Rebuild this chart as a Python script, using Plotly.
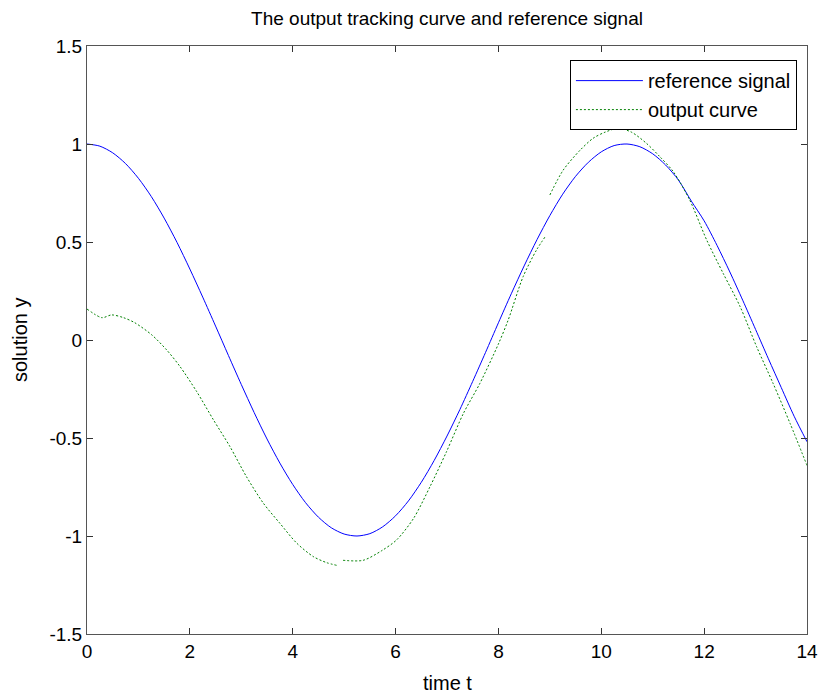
import plotly.graph_objects as go

# Reference signal
t_ref = [0, 0.25, 0.5, 0.75, 1, 1.25, 1.5, 1.75, 2, 2.25, 2.5, 2.75, 3, 3.25, 3.5, 3.75,
         4, 4.25, 4.5, 4.75, 5, 5.25, 5.5, 5.75, 6, 6.25, 6.5, 6.75, 7, 7.25, 7.5, 7.75,
         8, 8.25, 8.5, 8.75, 9, 9.25, 9.5, 9.75, 10, 10.25, 10.5, 10.75, 11, 11.25, 11.5,
         11.75, 12, 12.25, 12.5, 12.75, 13, 13.25, 13.5, 13.75, 14]
y_ref = [1.0, 0.989, 0.955, 0.900, 0.825, 0.732, 0.622, 0.498, 0.362, 0.219, 0.071, -0.079,
         -0.227, -0.370, -0.505, -0.628, -0.737, -0.830, -0.904, -0.958, -0.990, -1.0,
         -0.988, -0.953, -0.897, -0.821, -0.726, -0.615, -0.490, -0.355, -0.211, -0.063,
         0.088, 0.236, 0.378, 0.512, 0.635, 0.744, 0.835, 0.907, 0.960, 0.992, 1.0, 0.986,
         0.950, 0.893, 0.816, 0.709, 0.608, 0.483, 0.347, 0.203, 0.054, -0.096, -0.243,
         -0.389, -0.519]

# Output curve, three pieces (gaps marked with None)
t_out = [0, 0.29, 0.48, 0.71, 0.93, 1.26, 1.55, 1.81, 2.13, 2.46, 2.78, 3.1, 3.43, 3.75,
         4.08, 4.4, 4.66, 4.86, None,
         4.98, 5.37, 5.73, 6.02, 6.35, 6.67, 6.99, 7.32, 7.64, 8.0, 8.19, 8.48, 8.74, 8.92, None,
         9.0, 9.26, 9.59, 9.84, 10.07, 10.33, 10.59, 10.88, 11.14, 11.4, 11.72, 12.05, 12.37,
         12.7, 13.02, 13.34, 13.67, 14.0]
y_out = [0.158, 0.114, 0.128, 0.114, 0.088, 0.026, -0.051, -0.136, -0.262, -0.408, -0.544,
         -0.697, -0.833, -0.935, -1.037, -1.105, -1.136, -1.15, None,
         -1.124, -1.124, -1.075, -1.02, -0.91, -0.748, -0.57, -0.374, -0.221, -0.02, 0.102,
         0.323, 0.459, 0.531, None,
         0.74, 0.867, 0.969, 1.029, 1.06, 1.08, 1.06, 1.003, 0.935, 0.859, 0.714, 0.51, 0.34,
         0.17, -0.034, -0.221, -0.425, -0.64]

x_ticks = [0, 2, 4, 6, 8, 10, 12, 14]
y_ticks = [-1.5, -1, -0.5, 0, 0.5, 1, 1.5]
y_tick_labels = ["-1.5", "-1", "-0.5", "0", "0.5", "1", "1.5"]

FONT = "Arial, Liberation Sans, sans-serif"

fig = go.Figure()
fig.add_trace(go.Scatter(x=t_ref, y=y_ref, mode="lines", name="reference signal",
                         line=dict(color="#0000ff", width=1, shape="spline", smoothing=0.8)))
fig.add_trace(go.Scatter(x=t_out, y=y_out, mode="lines", name="output curve",
                         connectgaps=False,
                         line=dict(color="#008000", width=1, dash="2px,2px",
                                   shape="spline", smoothing=0.8)))

axis_common = dict(showgrid=False, zeroline=False, showline=True, linecolor="#555555",
                   linewidth=1, mirror="ticks", ticks="inside", ticklen=6,
                   tickcolor="#333333", automargin=False,
                   tickfont=dict(family=FONT, size=19, color="black"))

W, H = 820, 693
L, R, T, B = 87, 13, 46, 59
pw, ph = W - L - R, H - T - B

fig.update_layout(
    width=W, height=H,
    margin=dict(l=L, r=R, t=T, b=B),
    paper_bgcolor="white", plot_bgcolor="white",
    title=dict(text="The output tracking curve and reference signal",
               x=(L + pw / 2) / W, xanchor="center", y=1 - 18 / H, yanchor="middle",
               font=dict(family=FONT, size=19, color="black")),
    xaxis=dict(range=[0, 14], tickvals=x_ticks, ticktext=[str(v) for v in x_ticks],
               **axis_common),
    yaxis=dict(range=[-1.5, 1.5], tickvals=y_ticks, ticktext=y_tick_labels,
               **axis_common),
    legend=dict(x=0.986, y=0.976, xanchor="right", yanchor="top",
                bgcolor="white", bordercolor="black", borderwidth=1,
                itemwidth=67, tracegroupgap=0,
                font=dict(family=FONT, size=20, color="black")),
    showlegend=True,
    annotations=[
        dict(text="time t", xref="paper", yref="paper", x=0.5, y=-49 / ph,
             xanchor="center", yanchor="middle", showarrow=False,
             font=dict(family=FONT, size=20, color="black")),
        dict(text="solution y", xref="paper", yref="paper", x=-67 / pw, y=0.5,
             xanchor="center", yanchor="middle", showarrow=False, textangle=-90,
             font=dict(family=FONT, size=20, color="black")),
    ],
)

fig.write_html("out.html",
               config={"displayModeBar": False},
               post_script="document.body.style.margin='0';"
                           "document.body.style.overflow='hidden';")
